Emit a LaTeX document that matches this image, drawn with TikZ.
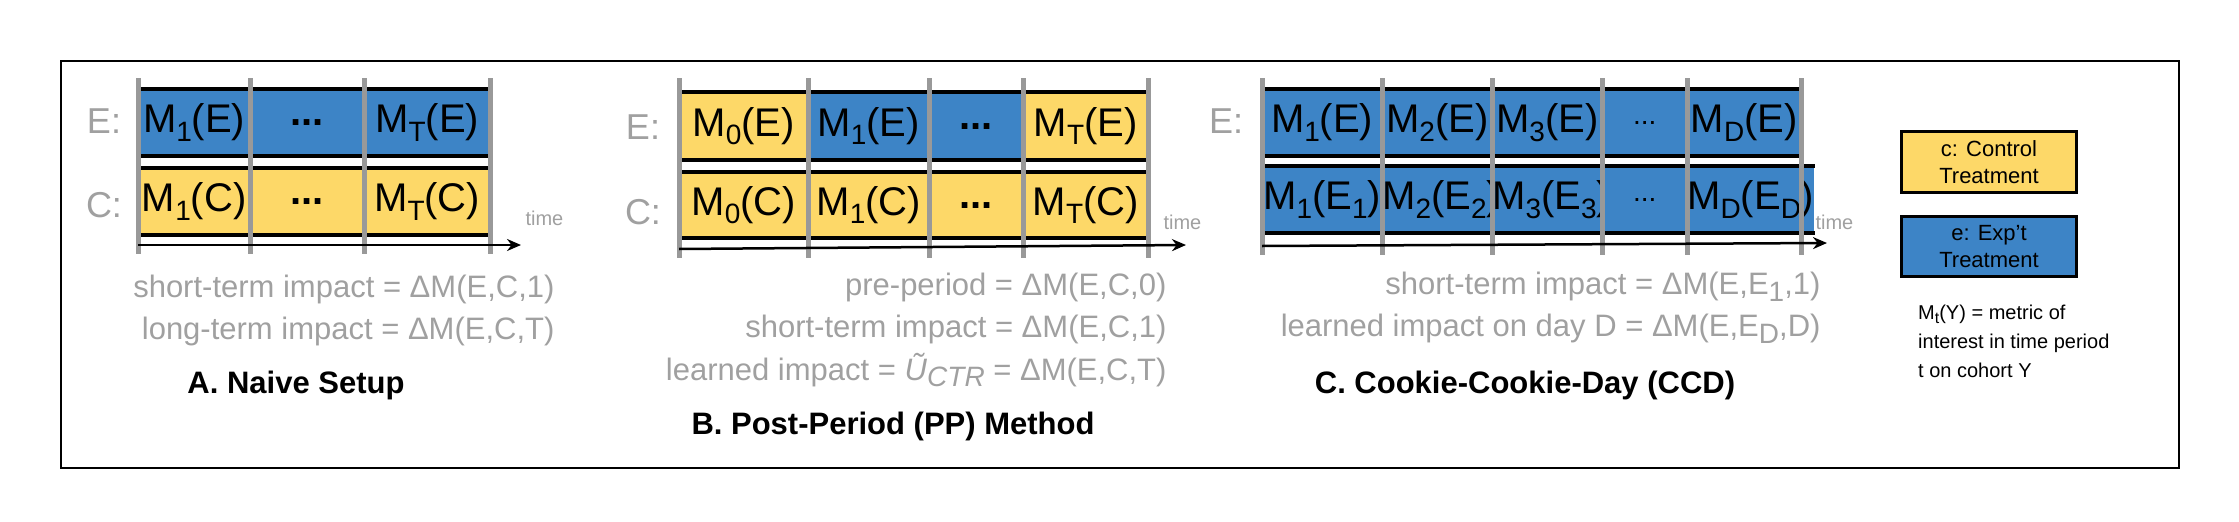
\documentclass[tikz,border=0pt]{standalone}
\usepackage{fontspec}
\setmainfont{Liberation Sans}
\usetikzlibrary{arrows.meta}
\definecolor{cblue}{HTML}{3D84C6}
\definecolor{cyel}{HTML}{FDD868}
\definecolor{tgray}{HTML}{A0A0A0}
\definecolor{lgray}{HTML}{999999}
\newcommand\lowsub[1]{\raisebox{-0.4ex}{\fontsize{28}{28}\selectfont #1}}
\newcommand\lowsubs[1]{\raisebox{-0.4ex}{\fontsize{16}{16}\selectfont #1}}
\newcommand\mkcell[7]{\node[#6, minimum width={(#3-#2)*1pt}, minimum height={(#5-#4)*1pt}, anchor=north west] (#1) at (#2,#4) {#7};}
\tikzset{
  bcell/.style={fill=cblue, inner sep=0pt, font=\fontsize{40}{44}\selectfont},
  ycell/.style={fill=cyel, inner sep=0pt, font=\fontsize{40}{44}\selectfont},
  blk/.style={line width=4pt, black},
  sep/.style={line width=5pt, lgray},
  lbl/.style={text=tgray, font=\fontsize{36}{40}\selectfont},
  gtxt/.style={text=tgray, font=\fontsize{31}{34}\selectfont, anchor=east},
  ttl/.style={font=\fontsize{31}{34}\selectfont\bfseries},
  tm/.style={text=tgray, font=\fontsize{20}{22}\selectfont, anchor=west},
  arr/.style={line width=2.5pt, -{Stealth[length=14pt,width=12pt]}},
  leg/.style={line width=3pt, draw=black, inner sep=0pt, font=\fontsize{22}{27}\selectfont, align=center}
}
\begin{document}
\begin{tikzpicture}[x=1pt,y=-1pt]
\useasboundingbox (0,0) rectangle (2239,522);
\node[draw=black, line width=2pt, minimum width=2118pt, minimum height=407pt, anchor=north west, inner sep=0pt] (frame) at (60,60) {};
% ---------- A
\mkcell{ae1}{138}{250}{89}{156}{bcell}{M\lowsub{1}(E)}
\mkcell{ae2}{250}{364}{89}{156}{bcell}{\textbf{...}}
\mkcell{ae3}{364}{490}{89}{156}{bcell}{M\lowsub{T}(E)}
\mkcell{ac1}{138}{250}{168}{235}{ycell}{M\lowsub{1}(C)}
\mkcell{ac2}{250}{364}{168}{235}{ycell}{\textbf{...}}
\mkcell{ac3}{364}{490}{168}{235}{ycell}{M\lowsub{T}(C)}
\foreach \r in {ae,ac}{\draw[blk] (\r1.north west) -- (\r3.north east); \draw[blk] (\r1.south west) -- (\r3.south east);}
\foreach \x in {138,250,364,490}{\draw[sep] (\x,78) -- (\x,254);}
\coordinate (aS) at (138,245); \coordinate (aE) at (521,245);
\draw[arr] (aS) -- (aE);
\node[tm] (atime) at (522,218) {time};
\node[lbl] (aEl) at (104,121) {E:};
\node[lbl] (aCl) at (104,205) {C:};
\node[gtxt] (at1) at (558,289) {short-term impact = ΔM(E,C,1)};
\node[gtxt] (at2) at (558,331) {long-term impact = ΔM(E,C,T)};
\node[ttl] (att) at (296,385) {A. Naive Setup};
% ---------- B
\mkcell{be1}{679}{808}{92}{160}{ycell}{M\lowsub{0}(E)}
\mkcell{be2}{808}{929}{92}{160}{bcell}{M\lowsub{1}(E)}
\mkcell{be3}{929}{1023}{92}{160}{bcell}{\textbf{...}}
\mkcell{be4}{1023}{1148}{92}{160}{ycell}{M\lowsub{T}(E)}
\mkcell{bc1}{679}{808}{172}{238}{ycell}{M\lowsub{0}(C)}
\mkcell{bc2}{808}{929}{172}{238}{ycell}{M\lowsub{1}(C)}
\mkcell{bc3}{929}{1023}{172}{238}{ycell}{\textbf{...}}
\mkcell{bc4}{1023}{1148}{172}{238}{ycell}{M\lowsub{T}(C)}
\foreach \r in {be,bc}{\draw[blk] (\r1.north west) -- (\r4.north east); \draw[blk] (\r1.south west) -- (\r4.south east);}
\foreach \x in {679,808,929,1023,1148}{\draw[sep] (\x,78) -- (\x,258);}
\coordinate (bS) at (679,249); \coordinate (bE) at (1186,245);
\draw[arr] (bS) -- (bE);
\node[tm] (btime) at (1160,222) {time};
\node[lbl] (bEl) at (643,127) {E:};
\node[lbl] (bCl) at (643,212) {C:};
\node[gtxt] (bt1) at (1170,287) {pre-period = ΔM(E,C,0)};
\node[gtxt] (bt2) at (1170,329) {short-term impact = ΔM(E,C,1)};
\node[gtxt] (bt3) at (1170,370) {learned impact = \textit{Ũ}\lowsub{\textit{CTR}} = ΔM(E,C,T)};
\node[ttl] (btt) at (893,426) {B. Post-Period (PP) Method};
% ---------- C
\mkcell{ce1}{1262}{1382}{89}{156}{bcell}{M\lowsub{1}(E)}
\mkcell{ce2}{1382}{1492}{89}{156}{bcell}{M\lowsub{2}(E)}
\mkcell{ce3}{1492}{1602}{89}{156}{bcell}{M\lowsub{3}(E)}
\mkcell{ce4}{1602}{1687}{89}{156}{bcell}{\fontsize{28}{28}\selectfont ...}
\mkcell{ce5}{1687}{1801}{89}{156}{bcell}{M\lowsub{D}(E)}
\mkcell{cf1}{1262}{1382}{166}{233}{bcell}{M\lowsub{1}(E\lowsub{1})}
\mkcell{cf2}{1382}{1492}{166}{233}{bcell}{M\lowsub{2}(E\lowsub{2})}
\mkcell{cf3}{1492}{1602}{166}{233}{bcell}{M\lowsub{3}(E\lowsub{3})}
\mkcell{cf4}{1602}{1687}{166}{233}{bcell}{\fontsize{28}{28}\selectfont ...}
\mkcell{cf5}{1687}{1801}{166}{233}{bcell}{M\lowsub{D}(E\lowsub{D})}
\foreach \r in {ce,cf}{\draw[blk] (\r1.north west) -- (\r5.north east); \draw[blk] (\r1.south west) -- (\r5.south east);}
\foreach \x in {1262,1382,1492,1602,1687,1801}{\draw[sep] (\x,78) -- (\x,255);}
\coordinate (cS) at (1262,246); \coordinate (cE) at (1827,243);
\draw[arr] (cS) -- (cE);
\node[tm] (ctime) at (1812,222) {time};
\node[lbl] (cEl) at (1226,121) {E:};
\node[gtxt] (ct1) at (1824,287) {short-term impact = ΔM(E,E\lowsub{1},1)};
\node[gtxt] (ct2) at (1824,329) {learned impact on day D = ΔM(E,E\lowsub{D},D)};
\node[ttl] (ctt) at (1525,385) {C. Cookie-Cookie-Day (CCD)};
% ---------- legend
\node[leg, fill=cyel, minimum width=175pt, minimum height=61pt, anchor=north west] (lc) at (1900,130) {c: Control\\Treatment};
\node[leg, fill=cblue, minimum width=175pt, minimum height=60pt, anchor=north west] (le) at (1900,215) {e: Exp't\\Treatment};
\node[anchor=north west, align=left, inner sep=0pt, font=\fontsize{20}{29}\selectfont] (lt) at (1918,305) {M\lowsubs{t}(Y) = metric of\\interest in time period\\t on cohort Y};
\end{tikzpicture}
\end{document}
